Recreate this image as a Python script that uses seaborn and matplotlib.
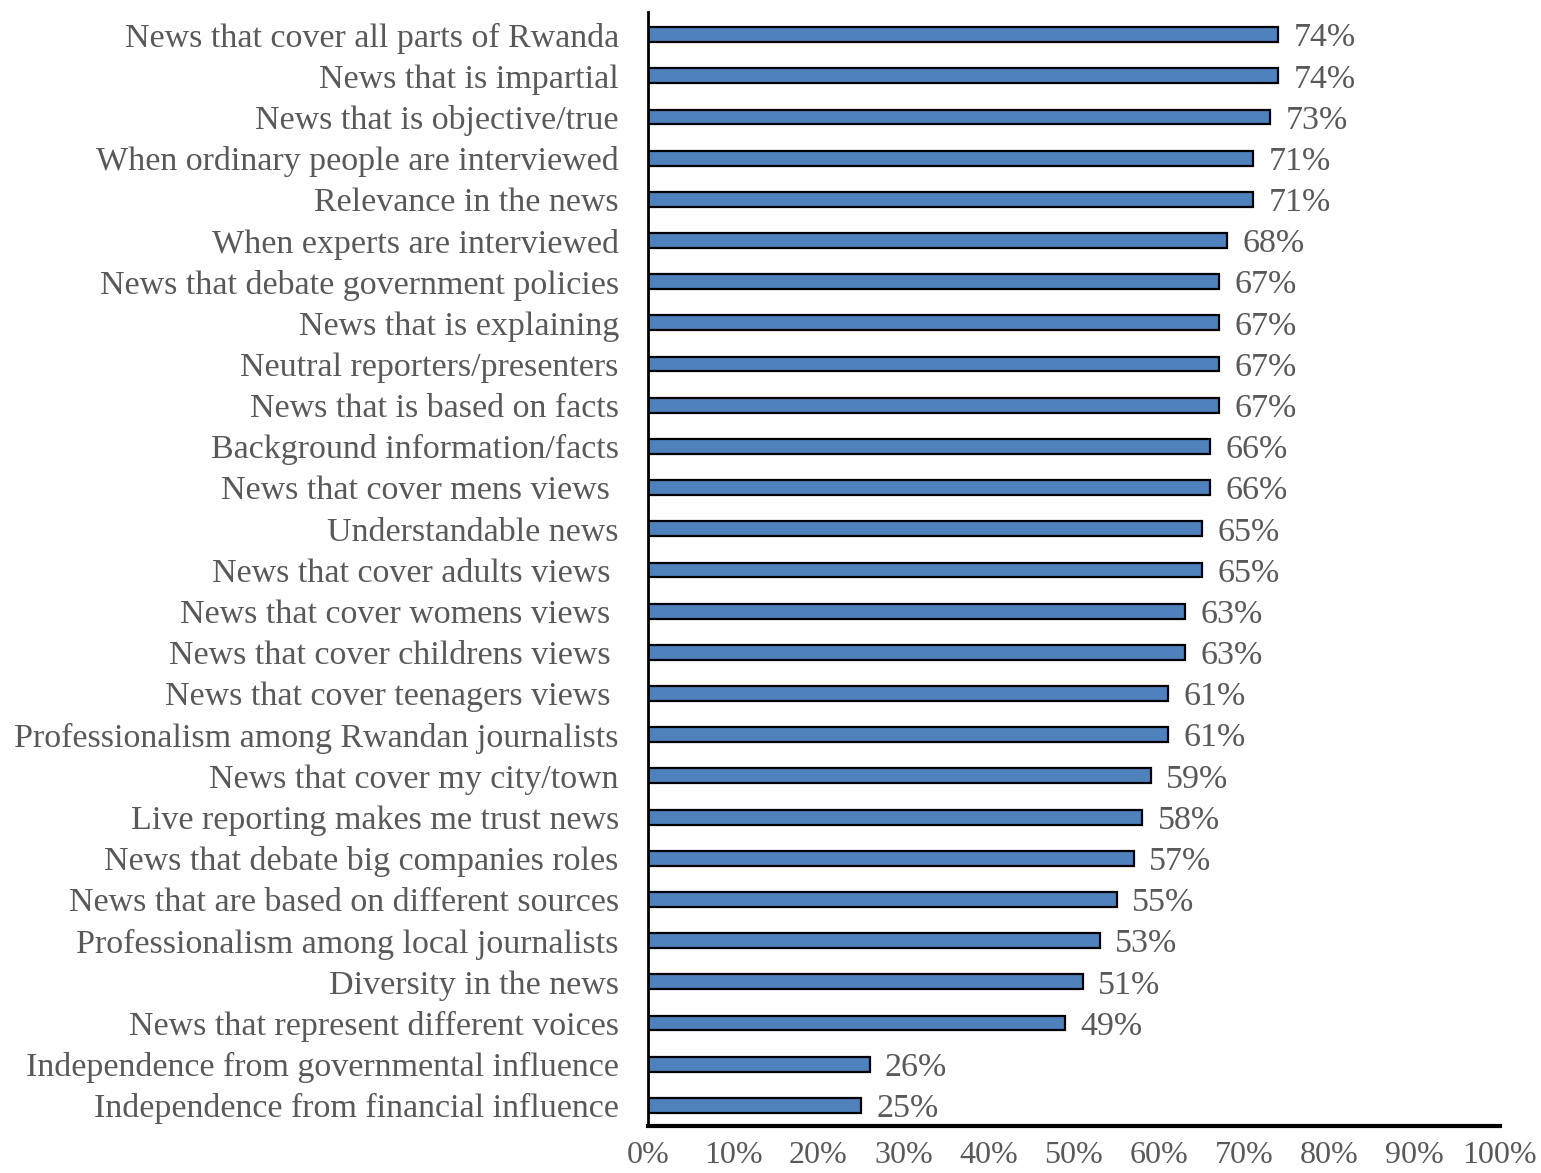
import matplotlib
matplotlib.use("Agg")
import matplotlib.pyplot as plt
import seaborn as sns
import pandas as pd

categories = [
    "News that cover all parts of Rwanda",
    "News that is impartial",
    "News that is objective/true",
    "When ordinary people are interviewed",
    "Relevance in the news",
    "When experts are interviewed",
    "News that debate government policies",
    "News that is explaining",
    "Neutral reporters/presenters",
    "News that is based on facts",
    "Background information/facts",
    "News that cover mens views ",
    "Understandable news",
    "News that cover adults views ",
    "News that cover womens views ",
    "News that cover childrens views ",
    "News that cover teenagers views ",
    "Professionalism among Rwandan journalists",
    "News that cover my city/town",
    "Live reporting makes me trust news",
    "News that debate big companies roles",
    "News that are based on different sources",
    "Professionalism among local journalists",
    "Diversity in the news",
    "News that represent different voices",
    "Independence from governmental influence",
    "Independence from financial influence",
]
values = [74, 74, 73, 71, 71, 68, 67, 67, 67, 67, 66, 66, 65, 65, 63, 63, 61, 61,
          59, 58, 57, 55, 53, 51, 49, 26, 25]
tick_labels = ["0%", "10%", "20%", "30%", "40%", "50%", "60%", "70%", "80%", "90%", "100%"]

df = pd.DataFrame({"item": categories, "share": [v / 100 for v in values]})

sns.set_theme(style="white")
plt.rcParams["font.family"] = ["Liberation Serif", "DejaVu Serif"]
gray = "#595959"
fs = 24.5

fig = plt.figure(figsize=(15.41, 11.73), dpi=100)
ax = fig.add_axes([0.4205, 0.0401, 0.5529, 0.9497])

sns.barplot(data=df, x="share", y="item", orient="h", color="#4f81bd",
            saturation=1, width=0.36, edgecolor="black", linewidth=1.6, ax=ax)

# percentage labels just past the end of each bar
for i, v in enumerate(values):
    ax.text(v / 100 + 0.018, i, f"{v}%", va="center_baseline", ha="left",
            fontsize=fs, color=gray)

ax.set_xlim(0, 1)
ax.set_ylim(len(categories) - 0.5, -0.55)
ax.set_xticks([i / 10 for i in range(11)])
ax.set_xticklabels(tick_labels)
ax.set_xlabel("")
ax.set_ylabel("")
ax.tick_params(axis="x", length=0, pad=11, labelsize=23, labelcolor=gray)
ax.tick_params(axis="y", length=0, pad=21, labelsize=fs, labelcolor=gray)
for lbl in ax.get_yticklabels():
    lbl.set_verticalalignment("center_baseline")

for side in ["top", "right"]:
    ax.spines[side].set_visible(False)
ax.spines["left"].set_color("black")
ax.spines["left"].set_linewidth(2)
ax.spines["bottom"].set_color("black")
ax.spines["bottom"].set_linewidth(3)

fig.savefig("out.png", dpi=100)
